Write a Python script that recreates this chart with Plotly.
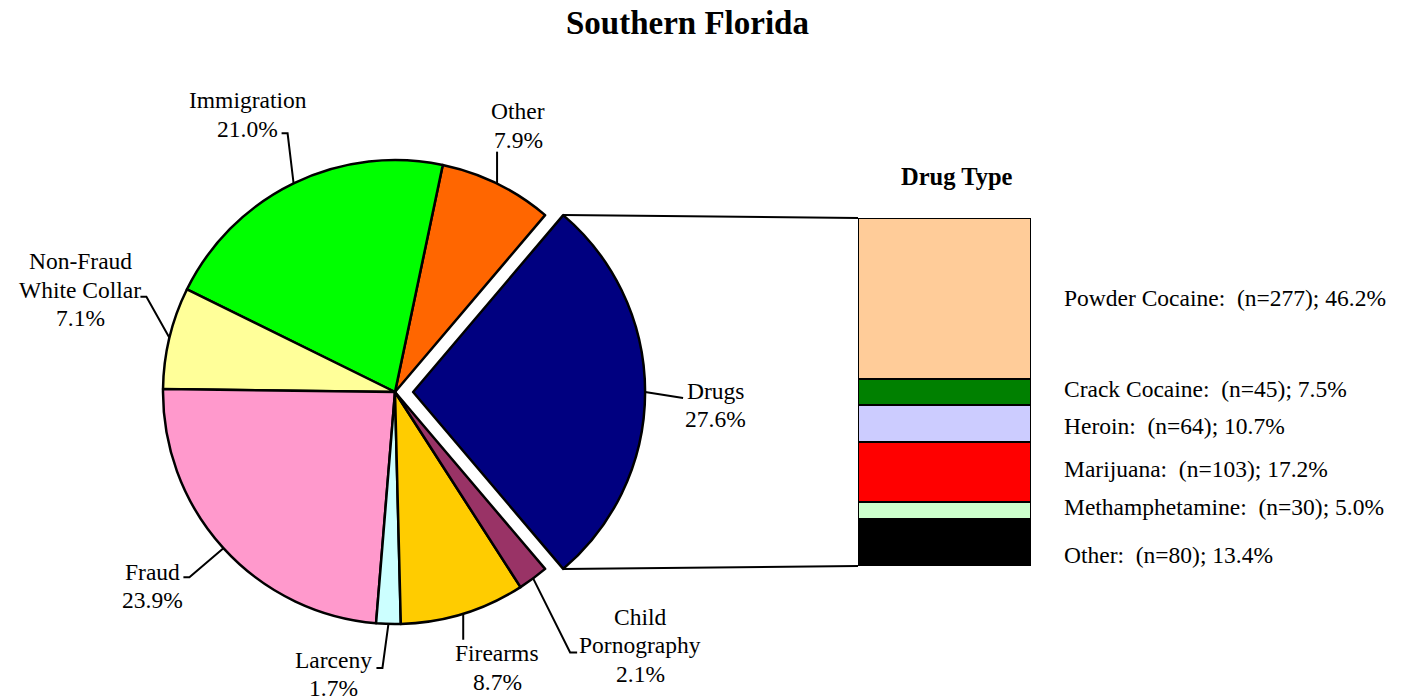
import math
import plotly.graph_objects as go

# the page adds an 8px body margin; the figure is sized to fit the window
OFF = 8
W, H = 1410 - OFF, 700 - OFF

# ---------------- data ----------------
offense_labels = ["Drugs", "Other", "Immigration", "Non-Fraud<br>White Collar", "Fraud",
                  "Larceny", "Firearms", "Child<br>Pornography"]
offense_pct = [27.6, 7.9, 21.0, 7.1, 23.9, 1.7, 8.7, 2.1]
offense_colors = ["#000080", "#FF6600", "#00FF00", "#FFFF99", "#FF99CC",
                  "#CCFFFF", "#FFCC00", "#993366"]

drug_types = ["Powder Cocaine", "Crack Cocaine", "Heroin", "Marijuana", "Methamphetamine", "Other"]
drug_counts = [277, 45, 64, 103, 30, 80]
drug_pct = [46.2, 7.5, 10.7, 17.2, 5.0, 13.4]
drug_colors = ["#FFCC99", "#008000", "#CCCCFF", "#FF0000", "#CCFFCC", "#000000"]

title_text = "Southern Florida"
bar_title = "Drug Type"

# ---------------- layout geometry (window pixels) ----------------
CX, CY, R = 395, 392, 232
PULL = 0.078
BAR_X0, BAR_X1, BAR_TOP, BAR_BOT = 858, 1031, 218, 566
FONT = "Liberation Serif, Times New Roman, serif"
FS = 23.5
LINE_PITCH = 28.5

# label placement styling (offsets from the leader anchor on the slice edge)
label_off = [(70, 13), (21, -58), (-46, -69), (-89, -48), (-71, 38), (-55, 50), (34, 54), (107, 67)]
leader_off = [[(38, 6)], [(0, -32)], [(-6, -50), (-12, -50)], [(-23, -41), (-29, -41)],
              [(-34, 29), (-40, 29)], [(-6, 44), (-12, 44)], [(0, 26)], [(37, 74), (44, 74)]]
drug_label_x = 1062
drug_label_up = [0, 3, -3, 3, 4, -12]


def px(x):
    return (x - OFF) / W


def py(y):
    return 1 - (y - OFF) / H


total = sum(offense_pct)
a0 = 360 * offense_pct[0] / total
rotation = 90 - a0 / 2

fig = go.Figure()

box = 2 * R * (1 + PULL)
fig.add_trace(go.Pie(
    labels=[l.replace("<br>", " ") for l in offense_labels],
    values=offense_pct,
    sort=False,
    direction="counterclockwise",
    rotation=rotation,
    pull=[PULL] + [0] * (len(offense_pct) - 1),
    marker=dict(colors=offense_colors, line=dict(color="black", width=2.5)),
    textinfo="none",
    hoverinfo="label+percent",
    domain=dict(x=[px(CX - box / 2), px(CX + box / 2)],
                y=[py(CY + box / 2), py(CY - box / 2)]),
    showlegend=False,
))

# stacked bar (bottom to top)
for name, n, p, c in reversed(list(zip(drug_types, drug_counts, drug_pct, drug_colors))):
    fig.add_trace(go.Bar(
        x=[0], y=[p], width=1, name=name,
        marker=dict(color=c, line=dict(color="black", width=2)),
        xaxis="x2", yaxis="y2", showlegend=False,
        hovertemplate=f"{name}: (n={n}); {p:.1f}%<extra></extra>",
    ))

shapes = []
annotations = []

# slice angles (clockwise from 12 o'clock) and leader lines + labels
cur = rotation + a0
for i, (lab, v) in enumerate(zip(offense_labels, offense_pct)):
    a = 360 * v / total
    mid = math.radians(cur - a / 2)
    cur -= a
    ox = oy = 0.0
    if i == 0:
        ox, oy = PULL * R * math.sin(mid), -PULL * R * math.cos(mid)
    ax_, ay_ = CX + ox + R * math.sin(mid), CY + oy - R * math.cos(mid)
    pts = [(ax_, ay_)] + [(ax_ + dx, ay_ + dy) for dx, dy in leader_off[i]]
    path = "M " + " L ".join(f"{px(x):.5f},{py(y):.5f}" for x, y in pts)
    shapes.append(dict(type="path", path=path, xref="paper", yref="paper",
                       line=dict(color="black", width=2)))
    ldx, ldy = label_off[i]
    lines = lab.split("<br>") + [f"{v:.1f}%"]
    n_lines = len(lines)
    for k, line in enumerate(lines):
        ly = ay_ + ldy + (k - (n_lines - 1) / 2) * LINE_PITCH
        annotations.append(dict(x=px(ax_ + ldx), y=py(ly), xref="paper", yref="paper",
                                text=line, showarrow=False, align="center",
                                xanchor="center", yanchor="middle",
                                font=dict(family=FONT, size=FS, color="black")))

# connector lines from pulled slice corners to the bar
mid0 = math.radians(rotation + a0 / 2)
ox0, oy0 = PULL * R * math.sin(mid0), -PULL * R * math.cos(mid0)
for ang, by in ((rotation, BAR_TOP), (rotation + a0, BAR_BOT)):
    t = math.radians(ang)
    x0, y0 = CX + ox0 + R * math.sin(t), CY + oy0 - R * math.cos(t)
    shapes.append(dict(type="line", xref="paper", yref="paper",
                       x0=px(x0), y0=py(y0), x1=px(BAR_X0), y1=py(by),
                       line=dict(color="black", width=2)))

# drug labels
cum = 0.0
dtotal = sum(drug_pct)
centers = []
for p in drug_pct:
    centers.append(dtotal - cum - p / 2)
    cum += p
for name, n, p, yc, sh in zip(drug_types, drug_counts, drug_pct, centers, drug_label_up):
    annotations.append(dict(x=px(drug_label_x), y=yc, xref="paper", yref="y2",
                            text=f"{name}:\u00a0 (n={n}); {p:.1f}%", showarrow=False,
                            xanchor="left", yanchor="middle", yshift=sh,
                            font=dict(family=FONT, size=FS, color="black")))

annotations.append(dict(x=px(957), y=py(176), xref="paper", yref="paper", text=f"<b>{bar_title}</b>",
                        showarrow=False, xanchor="center", yanchor="middle",
                        font=dict(family=FONT, size=24.5, color="black")))
annotations.append(dict(x=px(687), y=py(23), xref="paper", yref="paper", text=f"<b>{title_text}</b>",
                        showarrow=False, xanchor="center", yanchor="middle",
                        font=dict(family=FONT, size=33, color="black")))

fig.update_layout(
    width=W, height=H,
    margin=dict(l=0, r=0, t=0, b=0),
    paper_bgcolor="white", plot_bgcolor="white",
    barmode="stack",
    xaxis2=dict(domain=[px(BAR_X0), px(BAR_X1)], range=[-0.5, 0.5], visible=False, fixedrange=True),
    yaxis2=dict(domain=[py(BAR_BOT), py(BAR_TOP)], range=[0, dtotal], visible=False, fixedrange=True),
    xaxis=dict(visible=False), yaxis=dict(visible=False),
    shapes=shapes,
    annotations=annotations,
    showlegend=False,
)

fig.write_html("out.html")
